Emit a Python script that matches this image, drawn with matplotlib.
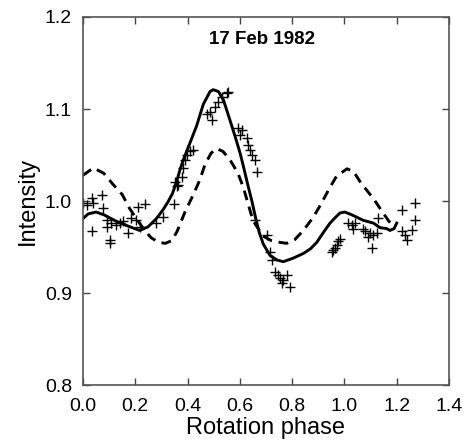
import matplotlib
matplotlib.use("Agg")
import matplotlib.pyplot as plt
import numpy as np

plt.rcParams['font.family'] = ['Liberation Sans', 'DejaVu Sans']

# observed intensities (+ markers)
obs_phase = [0.001, 0.014, 0.033, 0.038, 0.071, 0.078, 0.033, 0.090, 0.090, 0.108,
             0.127, 0.140, 0.153, 0.102, 0.105, 0.172, 0.185, 0.204, 0.210, 0.236,
             0.217, 0.281, 0.306, 0.348, 0.352, 0.358, 0.365, 0.378, 0.384, 0.390,
             0.397, 0.409, 0.422, 0.473, 0.486, 0.492, 0.505, 0.518, 0.531, 0.550,
             0.556, 0.594, 0.601, 0.607, 0.626, 0.632, 0.639, 0.645, 0.658, 0.664,
             0.658, 0.703, 0.715, 0.722, 0.734, 0.747, 0.754, 0.760, 0.766, 0.779,
             0.792, 0.951, 0.958, 0.964, 0.970, 0.977, 0.983, 1.015, 1.028, 1.034,
             1.041, 1.072, 1.079, 1.091, 1.098, 1.111, 1.124, 1.104, 1.130, 1.219,
             1.270, 1.270, 1.257, 1.219, 1.232, 1.238]
obs_int = [0.998, 0.996, 1.003, 0.998, 1.007, 0.992, 0.967, 0.979, 0.972, 0.976,
           0.974, 0.976, 0.978, 0.958, 0.954, 0.965, 0.981, 0.979, 0.994, 0.997,
           0.972, 0.976, 0.983, 0.997, 1.021, 1.016, 1.017, 1.026, 1.036, 1.045,
           1.050, 1.054, 1.055, 1.095, 1.097, 1.088, 1.102, 1.108, 1.113, 1.117,
           1.119, 1.079, 1.072, 1.077, 1.068, 1.061, 1.055, 1.050, 1.045, 1.032,
           0.979, 0.963, 0.945, 0.936, 0.923, 0.920, 0.916, 0.911, 0.914, 0.920,
           0.907, 0.945, 0.947, 0.949, 0.952, 0.956, 0.959, 0.976, 0.974, 0.970,
           0.976, 0.970, 0.967, 0.961, 0.965, 0.963, 0.965, 0.949, 0.981, 0.990,
           0.998, 0.979, 0.968, 0.967, 0.963, 0.958]

# model curve, solid
solid_phase = [0.0, 0.02, 0.05, 0.08, 0.127, 0.17, 0.217, 0.249, 0.281, 0.305,
               0.325, 0.342, 0.358, 0.37, 0.384, 0.409, 0.435, 0.46, 0.486, 0.498,
               0.518, 0.537, 0.562, 0.582, 0.601, 0.615, 0.63, 0.646, 0.66, 0.675,
               0.69, 0.715, 0.741, 0.766, 0.805, 0.843, 0.87, 0.894, 0.92, 0.945,
               0.965, 0.983, 1.002, 1.028, 1.072, 1.111, 1.136, 1.162, 1.174, 1.19,
               1.2]
solid_int = [0.981, 0.986, 0.988, 0.985, 0.978, 0.973, 0.968, 0.972, 0.981, 0.990,
             0.999, 1.008, 1.021, 1.033, 1.045, 1.063, 1.082, 1.105, 1.119, 1.121,
             1.119, 1.110, 1.088, 1.070, 1.052, 1.036, 1.018, 1.000, 0.982, 0.965,
             0.953, 0.941, 0.936, 0.934, 0.938, 0.943, 0.948, 0.955, 0.966, 0.976,
             0.982, 0.987, 0.988, 0.985, 0.979, 0.976, 0.971, 0.970, 0.968, 0.970,
             0.976]

# model curve, dashed
dash_phase = [0.0, 0.04, 0.08, 0.115, 0.15, 0.178, 0.204, 0.236, 0.261, 0.29,
              0.315, 0.34, 0.36, 0.39, 0.422, 0.447, 0.467, 0.49, 0.51, 0.535,
              0.562, 0.593, 0.613, 0.65, 0.688, 0.72, 0.754, 0.779, 0.81, 0.843,
              0.88, 0.907, 0.945, 0.97, 1.01, 1.035, 1.06, 1.09, 1.11, 1.148,
              1.17, 1.19]
dash_int = [1.028, 1.036, 1.030, 1.018, 1.007, 0.992, 0.981, 0.968, 0.960, 0.955,
            0.954, 0.957, 0.967, 0.988, 1.007, 1.023, 1.040, 1.052, 1.057, 1.054,
            1.045, 1.030, 1.015, 0.979, 0.962, 0.957, 0.955, 0.954, 0.958, 0.968,
            0.982, 0.995, 1.015, 1.027, 1.035, 1.032, 1.021, 1.010, 1.003, 0.987,
            0.978, 0.972]

x_ticks = [0.0, 0.2, 0.4, 0.6, 0.8, 1.0, 1.2, 1.4]
y_ticks = [0.8, 0.9, 1.0, 1.1, 1.2]

fig = plt.figure(figsize=(4.7, 4.45), dpi=100)
ax = fig.add_axes([0.1766, 0.1348, 0.7787, 0.827])

ax.plot(obs_phase, obs_int, '+', color='black', markersize=7, markeredgewidth=1.0)
ax.plot(solid_phase, solid_int, '-', color='black', lw=2.1)
ax.plot(dash_phase, dash_int, color='black', lw=2.1, linestyle=(0, (3.4, 2.3)))

ax.set_xlim(0, 1.4)
ax.set_ylim(0.8, 1.2)
ax.set_xticks(x_ticks)
ax.set_yticks(y_ticks)
ax.set_xticklabels(["%.1f" % t for t in x_ticks])
ax.set_yticklabels(["%.1f" % t for t in y_ticks])
ax.tick_params(direction='in', length=5, width=1, top=True, right=True,
               labelsize=14, color='#444444')
ax.tick_params(axis='x', pad=9)
ax.tick_params(axis='y', pad=8)
for s in ax.spines.values():
    s.set_color('#555555')
    s.set_linewidth(1.2)

ax.set_xlabel("Rotation phase", fontsize=17, labelpad=2)
ax.set_ylabel("Intensity", fontsize=17, labelpad=4)
ax.text(0.489, 0.9375, "17 Feb 1982", transform=ax.transAxes, ha='center',
        va='center', fontsize=13.5, fontweight='bold')

fig.savefig("out.png", dpi=100)
